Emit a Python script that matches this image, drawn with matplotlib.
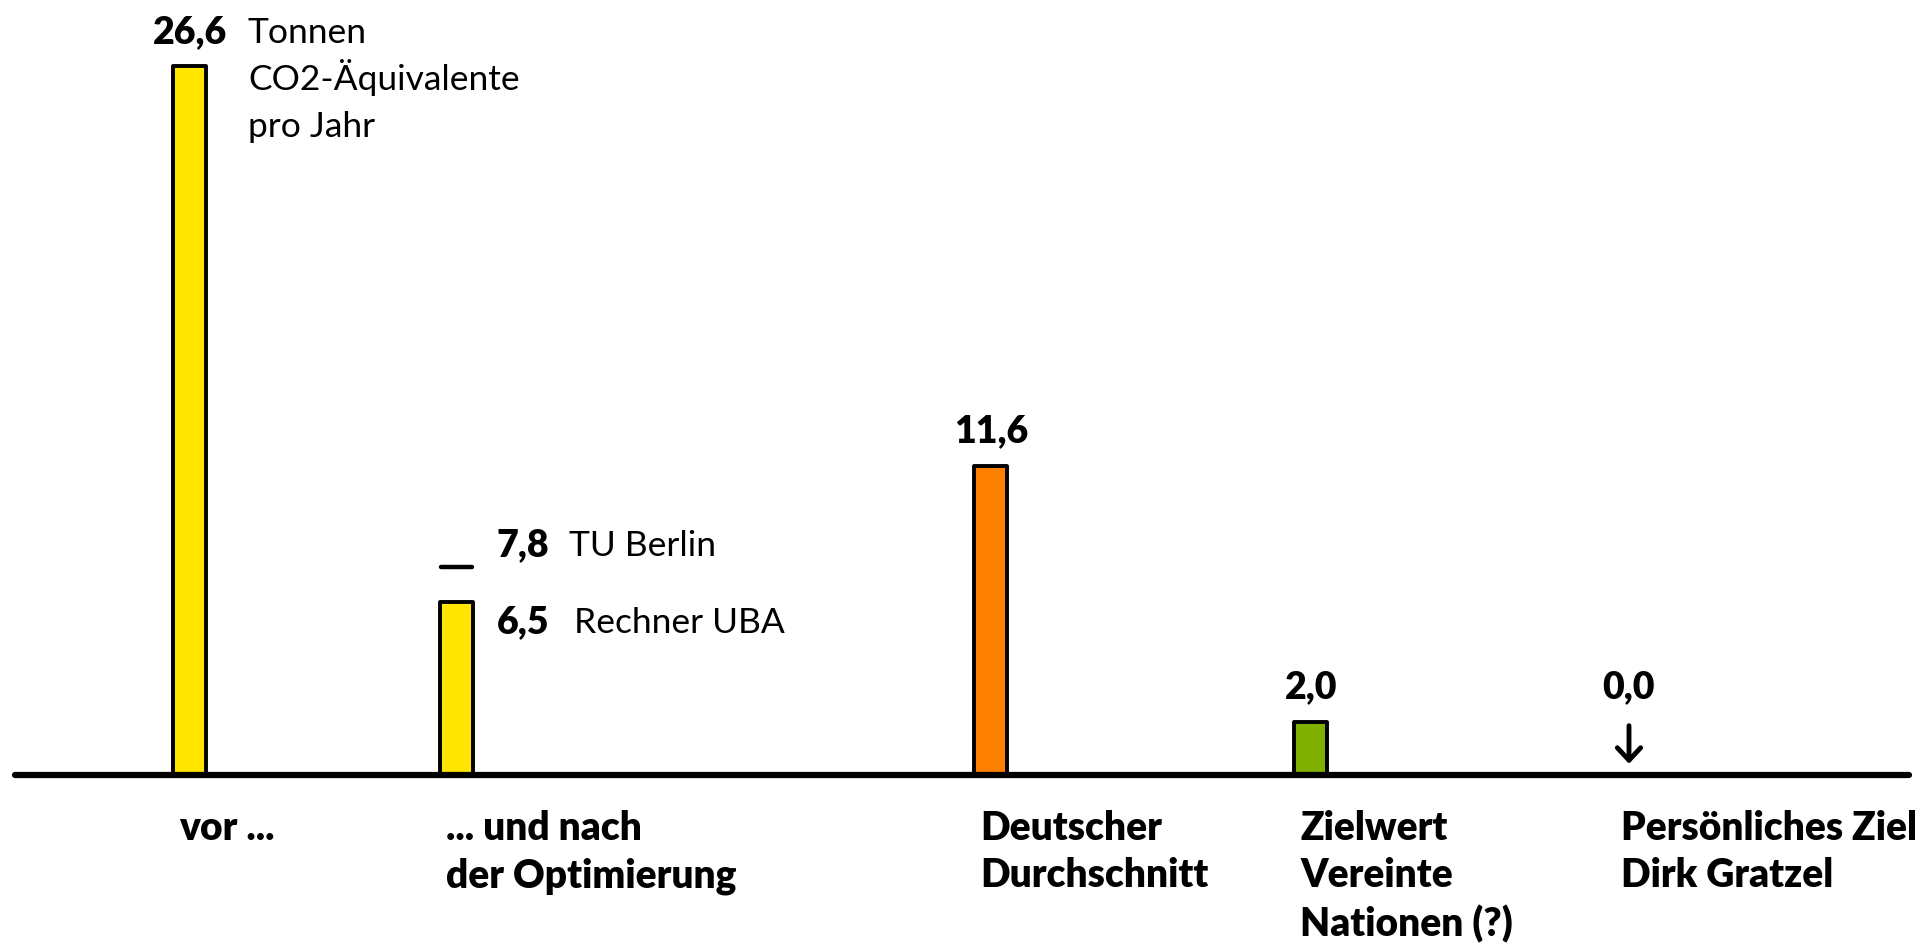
import matplotlib.pyplot as plt

# data
categories = ["vor ...", "... und nach\nder Optimierung", "Deutscher\nDurchschnitt",
              "Zielwert\nVereinte\nNationen (?)", "Persönliches Ziel\nDirk Gratzel"]
values = [26.6, 6.5, 11.6, 2.0, 0.0]
value_labels = ["26,6", "6,5", "11,6", "2,0", "0,0"]
colors = ["#FFE500", "#FFE500", "#FF7F00", "#7FB000", "none"]
unit_lines = ["Tonnen", "CO2-Äquivalente", "pro Jahr"]
tu_berlin_value = 7.8
tu_berlin_label = "7,8"

# layout (figure pixels)
W, H = 1924, 944
x_pos = [190, 457, 991, 1311, 1629]
bar_w = 33
base_px = 169      # baseline distance from bottom
px_per_unit = 26.65

BOLD = dict(family=["Lato", "DejaVu Sans"], fontweight="heavy", color="black")
LIGHT = dict(family=["Lato", "DejaVu Sans"], fontweight="normal", color="black")

fig = plt.figure(figsize=(W / 100, H / 100), dpi=100)
ax = fig.add_axes([0, 0, 1, 1])
ax.set_xlim(0, W)
ax.set_ylim(-base_px / px_per_unit, (H - base_px) / px_per_unit)
ax.axis("off")

for x, v, c in zip(x_pos[:4], values[:4], colors[:4]):
    ax.bar(x, v, width=bar_w, color=c, edgecolor="black", linewidth=2.8,
           joinstyle="round", zorder=2)

# baseline
ax.plot([15, 1909], [0, 0], color="black", lw=4.5, solid_capstyle="round", zorder=3)

# TU Berlin marker
ax.plot([x_pos[1] - bar_w / 2 + 1, x_pos[1] + bar_w / 2 - 1], [tu_berlin_value] * 2,
        color="black", lw=3.2, solid_capstyle="round")

fs_val = 27
fs_cat = 28
fs_light = 25.5

# value labels
ax.text(x_pos[0], values[0] + 0.87, value_labels[0], ha="center", va="baseline",
        fontsize=fs_val, **BOLD)
for k, line in enumerate(unit_lines):
    ax.text(248, values[0] + 0.87 - k * 1.77, line, ha="left", va="baseline",
            fontsize=fs_light, **LIGHT)
ax.text(497, tu_berlin_value + 0.42, tu_berlin_label, ha="left", va="baseline",
        fontsize=fs_val, **BOLD)
ax.text(569, tu_berlin_value + 0.42, "TU Berlin", ha="left", va="baseline",
        fontsize=fs_light, **LIGHT)
ax.text(497, values[1] - 1.17, value_labels[1], ha="left", va="baseline",
        fontsize=fs_val, **BOLD)
ax.text(574, values[1] - 1.17, "Rechner UBA", ha="left", va="baseline",
        fontsize=fs_light, **LIGHT)
for i in (2, 3):
    ax.text(x_pos[i], values[i] + 0.89, value_labels[i],
            ha="center", va="baseline", fontsize=fs_val, **BOLD)
ax.text(x_pos[4], values[3] + 0.89, value_labels[4],
        ha="center", va="baseline", fontsize=fs_val, **BOLD)

# arrow for 0,0
ax.annotate("", xy=(x_pos[4], values[4] + 0.42), xytext=(x_pos[4], values[4] + 1.85),
            arrowprops=dict(arrowstyle="->,head_length=0.45,head_width=0.42",
                            mutation_scale=20, color="black", lw=3.5,
                            capstyle="round", joinstyle="round",
                            shrinkA=0, shrinkB=0))

# category labels
for x, cat in zip(x_pos, categories):
    left = x - bar_w / 2 + 6 if x != x_pos[4] else x - 8
    ax.text(left, -1.33, cat, ha="left", va="top", fontsize=fs_cat,
            linespacing=1.33, **BOLD)

fig.savefig("out.png", dpi=100)
